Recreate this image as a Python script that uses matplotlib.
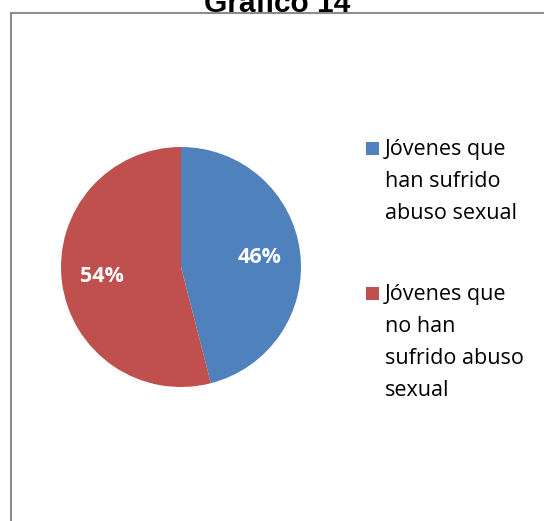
import matplotlib
matplotlib.use("Agg")
import matplotlib.pyplot as plt
from matplotlib.patches import Rectangle

title = "Gráfico 14"
labels = ["Jóvenes que\nhan sufrido\nabuso sexual", "Jóvenes que\nno han\nsufrido abuso\nsexual"]
values = [46, 54]
colors = ["#4F81BD", "#C0504D"]

W, H = 544, 521
fig = plt.figure(figsize=(W / 100, H / 100), dpi=100)

# border
fig.patches.append(Rectangle((11 / W, -0.01), 1.2, (H - 13) / H + 0.01, transform=fig.transFigure,
                             fill=False, edgecolor="#8c8c8c", linewidth=1.5))

fig.text(277 / W, (H - 12) / H, title, ha="center", va="baseline",
         fontsize=21.5, fontweight="bold", family="Liberation Sans")

ax = fig.add_axes([61 / W, (H - 387) / H, 240 / W, 240 / H])
wedges, texts, autotexts = ax.pie(values, colors=colors, startangle=90, counterclock=False,
                                  autopct=lambda p: f"{p:.0f}%", pctdistance=0.66,
                                  radius=1.0)
for t in autotexts:
    t.set_color("white")
    t.set_fontweight("bold")
    t.set_fontsize(15.5)
    t.set_family("Open Sans")
ax.set_xlim(-1, 1)
ax.set_ylim(-1, 1)
ax.set_aspect("equal")
ax.axis("off")

# legend
first_lines = [148, 293]
for lab, col, y in zip(labels, colors, first_lines):
    fig.patches.append(Rectangle((366 / W, (H - y - 7) / H), 13 / W, 13 / H,
                                 transform=fig.transFigure, facecolor=col, edgecolor="none"))
    fig.text(385 / W, (H - y + 9) / H, lab, ha="left", va="top", fontsize=15.5,
             family="Open Sans", linespacing=1.68, color="#000000")

fig.savefig("out.png", dpi=100)
